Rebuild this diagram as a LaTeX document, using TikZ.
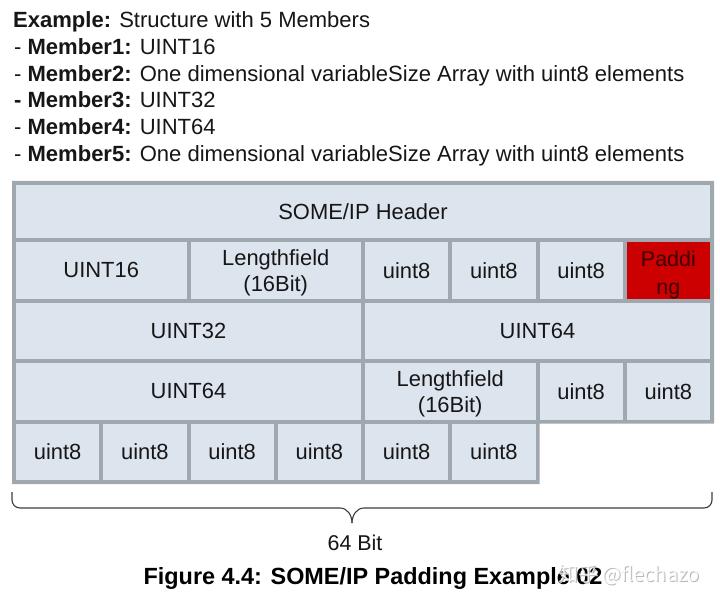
\documentclass[tikz,border=0pt]{standalone}
\usepackage{fontspec}
\setmainfont{Liberation Sans}
\newfontfamily\cjkfont{Noto Sans CJK SC}
\definecolor{gridgrey}{RGB}{160,168,175}
\definecolor{cellfill}{RGB}{220,228,237}
\definecolor{padred}{RGB}{204,0,0}
\definecolor{textcol}{RGB}{22,22,22}
\definecolor{padtext}{RGB}{60,0,0}
\definecolor{bracecol}{RGB}{60,60,60}
\newcommand{\mkcell}[7][]{%
  \pgfmathsetmacro{\xa}{14+#3*87.25+2}%
  \pgfmathsetmacro{\xb}{14+(#3+#4)*87.25-2}%
  \node[cellbox,#1,minimum width={(\xb-\xa)*1bp},minimum height={(#6-#5-4)*1bp}]
    (#2) at ({(\xa+\xb)/2},{(#5+#6)/2}) {#7};%
}
\newcommand{\lowr}[1]{\raisebox{-2.5bp}[\height][\depth]{#1}}
\begin{document}
\begin{tikzpicture}[x=1bp,y=-1bp,
  cellbox/.style={fill=cellfill,draw=none,inner sep=0pt,outer sep=0pt,
    text=textcol,align=center,font=\fontsize{22}{26}\selectfont},
  padcell/.style={fill=padred,text=padtext,font=\fontsize{21.5}{28}\selectfont},
  topline/.style={anchor=base west,inner sep=0pt,text=textcol,
    font=\fontsize{22.1}{26}\selectfont},
  brace/.style={draw=bracecol,line width=1.1pt}]
\useasboundingbox[fill=white] (0,0) rectangle (720,605);

% description text
\node[topline] (t0) at (13,27.5) {\textbf{Example:} Structure with 5 Members};
\node[topline] (t1) at (14,54.3) {- \textbf{Member1:} UINT16};
\node[topline] (t2) at (14,81.1) {- \textbf{Member2:} One dimensional variableSize Array with uint8 elements};
\node[topline] (t3) at (14,107.9) {\textbf{- Member3:} UINT32};
\node[topline] (t4) at (14,134.7) {- \textbf{Member4:} UINT64};
\node[topline] (t5) at (14,161.5) {- \textbf{Member5:} One dimensional variableSize Array with uint8 elements};

% grey frame
\fill[gridgrey] (12,181) -- (714,181) -- (714,423.5) -- (539.5,423.5)
  -- (539.5,484) -- (12,484) -- cycle;

% row 1
\mkcell{hdr}{0}{8}{183}{240}{SOME/IP Header}
% row 2
\mkcell{r2a}{0}{2}{240}{300.5}{UINT16}
\mkcell{r2b}{2}{2}{240}{300.5}{\lowr{Lengthfield}\\\lowr{(16Bit)}}
\mkcell{r2c}{4}{1}{240}{300.5}{uint8}
\mkcell{r2d}{5}{1}{240}{300.5}{uint8}
\mkcell{r2e}{6}{1}{240}{300.5}{uint8}
\mkcell[padcell]{r2f}{7}{1}{240}{300.5}{\lowr{\lowr{Paddi}}\\\lowr{\lowr{ng}}}
% row 3
\mkcell{r3a}{0}{4}{300.5}{361}{UINT32}
\mkcell{r3b}{4}{4}{300.5}{361}{UINT64}
% row 4
\mkcell{r4a}{0}{4}{361}{421.5}{UINT64}
\mkcell{r4b}{4}{2}{361}{421.5}{\lowr{Lengthfield}\\\lowr{(16Bit)}}
\mkcell{r4c}{6}{1}{361}{421.5}{uint8}
\mkcell{r4d}{7}{1}{361}{421.5}{uint8}
% row 5
\mkcell{r5a}{0}{1}{421.5}{482}{uint8}
\mkcell{r5b}{1}{1}{421.5}{482}{uint8}
\mkcell{r5c}{2}{1}{421.5}{482}{uint8}
\mkcell{r5d}{3}{1}{421.5}{482}{uint8}
\mkcell{r5e}{4}{1}{421.5}{482}{uint8}
\mkcell{r5f}{5}{1}{421.5}{482}{uint8}

% brace
\coordinate (bl) at (12,492);
\coordinate (br) at (712,492);
\coordinate (bt) at (352,523);
\draw[brace] (bl) -- (12,500) to[out=-90,in=180] (20,508) -- (340,508)
  to[out=0,in=90] (bt);
\draw[brace] (br) -- (712,500) to[out=-90,in=0] (704,508) -- (364,508)
  to[out=180,in=90] (bt);
\node[text=textcol,font=\fontsize{21.5}{26}\selectfont] (bits) at (355,543) {64 Bit};

% caption
\node[text=black,font=\fontsize{23.5}{28}\selectfont\bfseries] (cap) at (373,578)
  {Figure 4.4: SOME/IP Padding Example 02};

% watermark
\node[text=gray!55,font=\cjkfont\fontsize{20}{24}\selectfont] (wm0) at (630,576) {知乎 @flechazo};
\node[text=white,opacity=0.85,font=\cjkfont\fontsize{20}{24}\selectfont] (wm) at (629,575) {知乎 @flechazo};
\end{tikzpicture}
\end{document}
